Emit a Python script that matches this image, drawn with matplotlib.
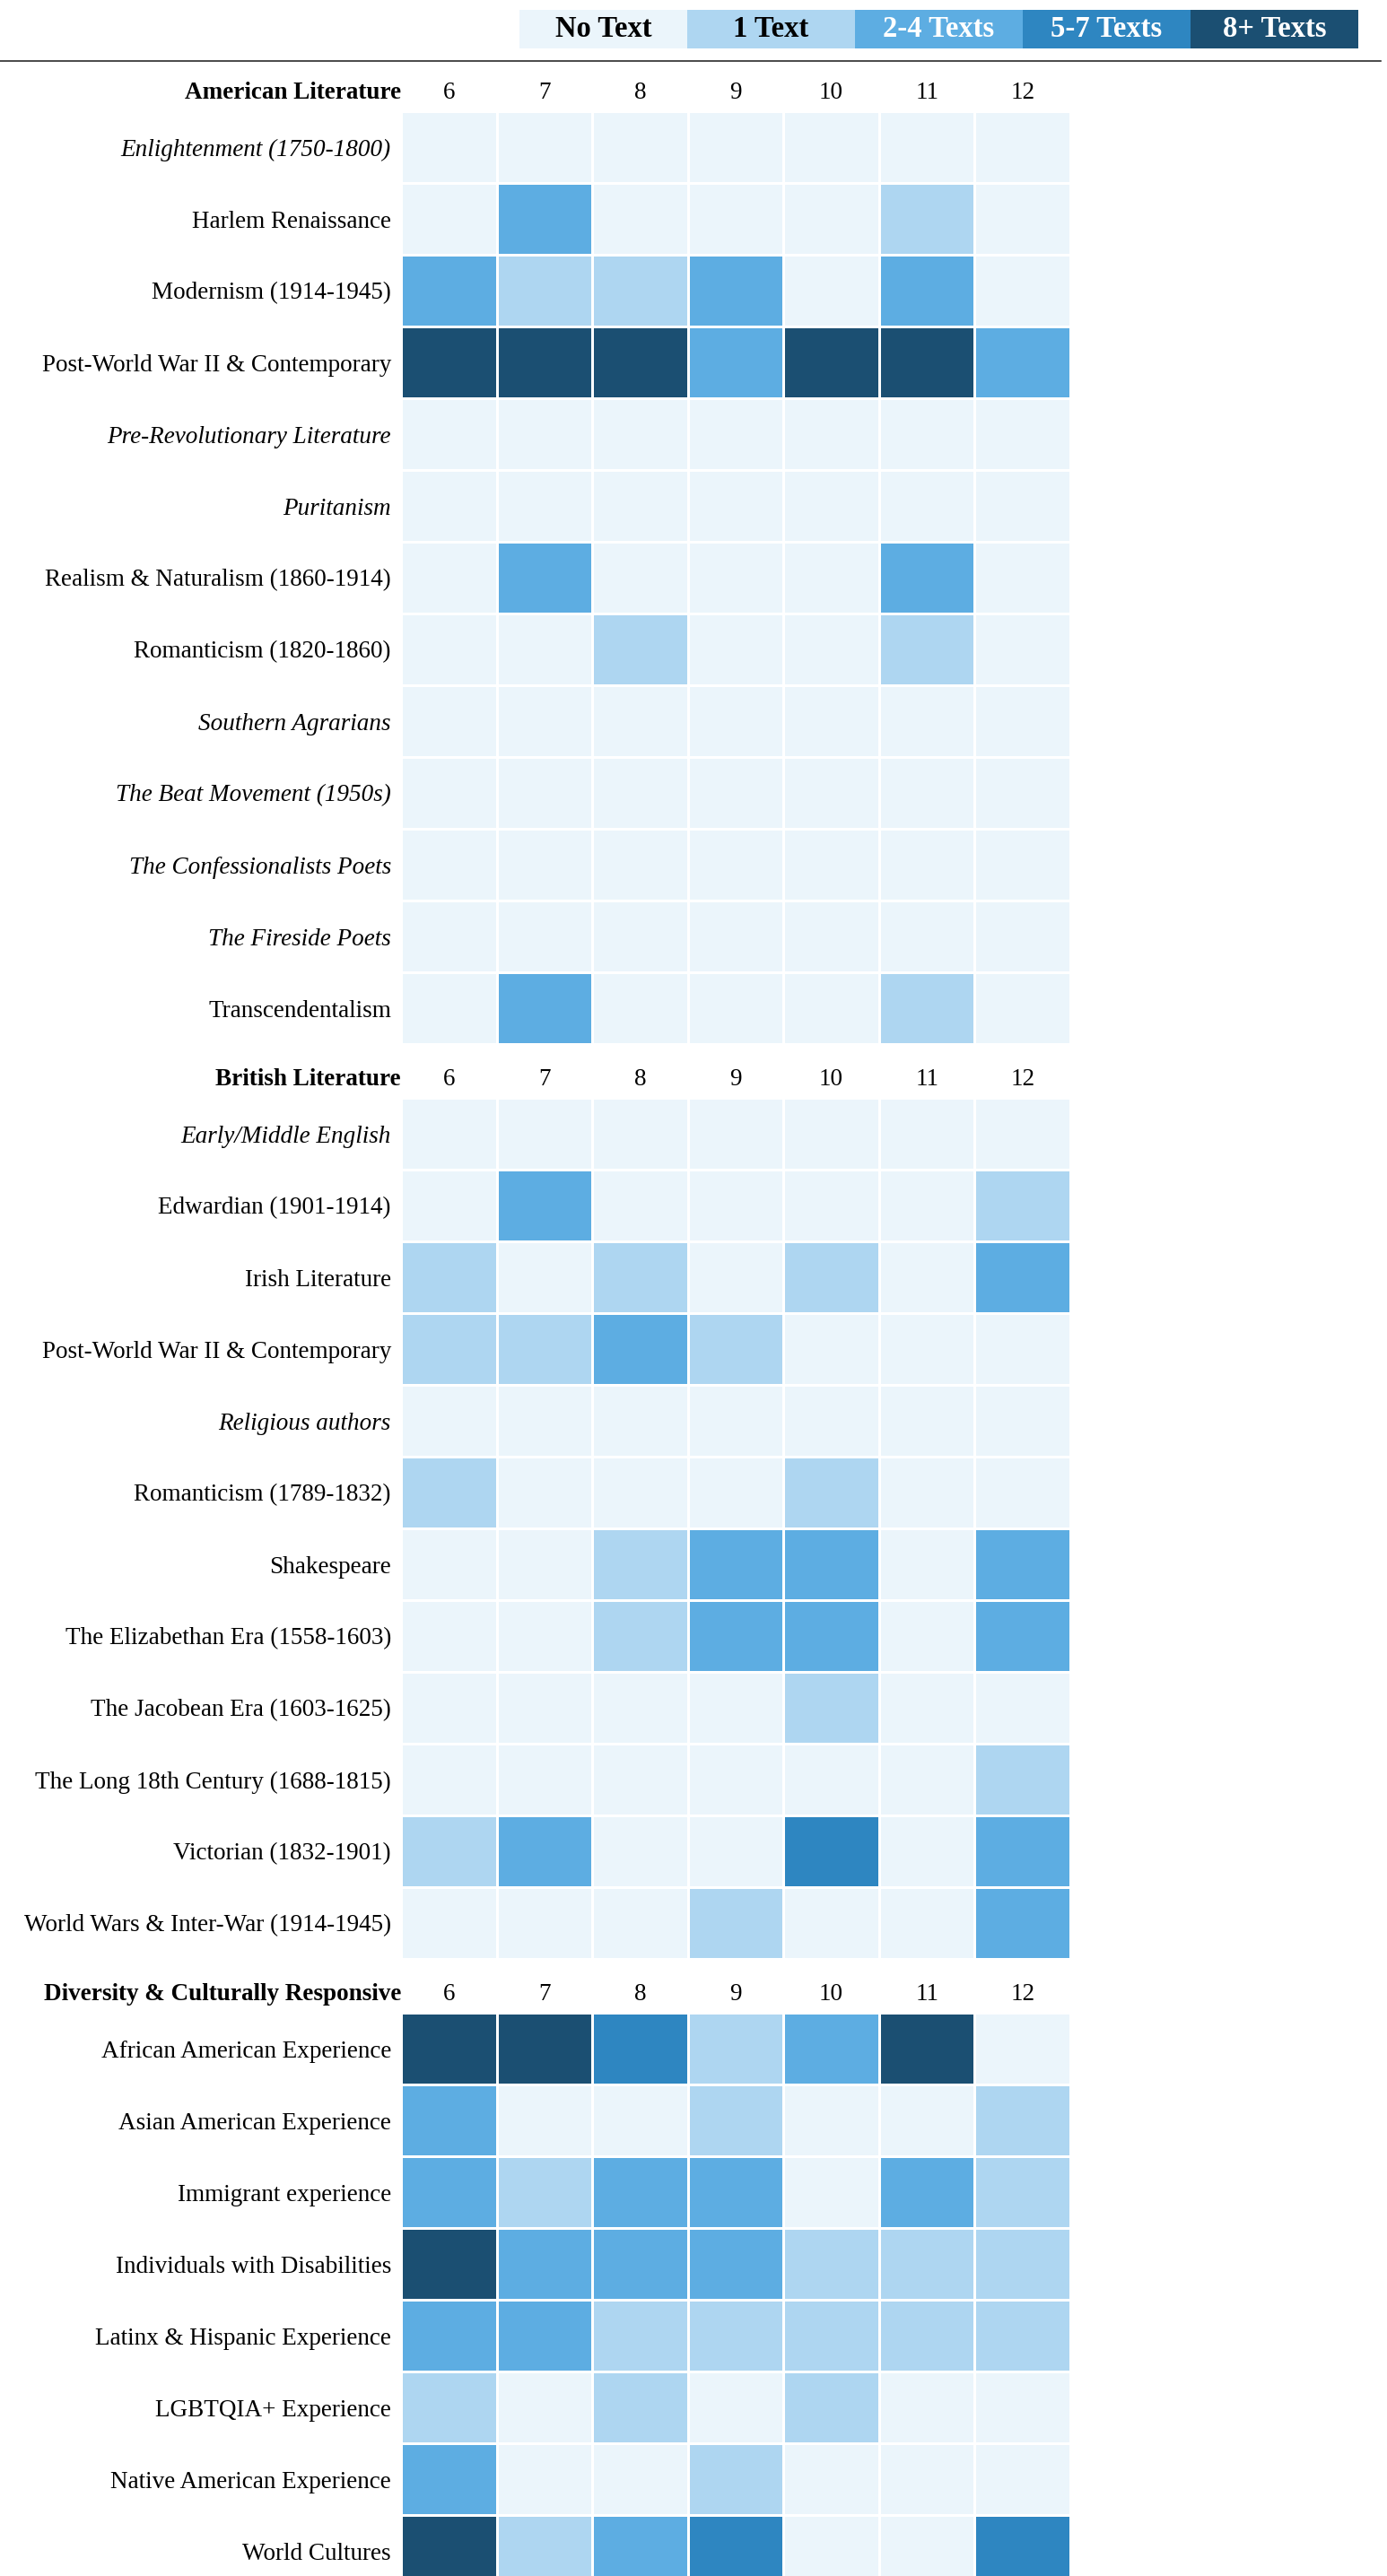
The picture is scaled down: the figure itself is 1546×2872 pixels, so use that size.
import matplotlib.pyplot as plt
import matplotlib.transforms as mtransforms
import numpy as np
from matplotlib.colors import BoundaryNorm, ListedColormap
from matplotlib.lines import Line2D

plt.rcParams["font.family"] = ["Liberation Serif", "DejaVu Serif"]

GRADES = [6, 7, 8, 9, 10, 11, 12]

LEGEND_LABELS = ["No Text", "1 Text", "2-4 Texts", "5-7 Texts", "8+ Texts"]
LEGEND_TEXT_COLORS = ["black", "black", "white", "white", "white"]
LEVEL_COLORS = ["#EBF5FB", "#AED6F1", "#5DADE2", "#2E86C1", "#1B4F72"]

AMERICAN_TITLE = "American Literature"
AMERICAN_ROWS = [
    "Enlightenment (1750-1800)",
    "Harlem Renaissance",
    "Modernism (1914-1945)",
    "Post-World War II & Contemporary",
    "Pre-Revolutionary Literature",
    "Puritanism",
    "Realism & Naturalism (1860-1914)",
    "Romanticism (1820-1860)",
    "Southern Agrarians",
    "The Beat Movement (1950s)",
    "The Confessionalists Poets",
    "The Fireside Poets",
    "Transcendentalism",
]
AMERICAN_LEVELS = [
    [0, 0, 0, 0, 0, 0, 0],
    [0, 2, 0, 0, 0, 1, 0],
    [2, 1, 1, 2, 0, 2, 0],
    [4, 4, 4, 2, 4, 4, 2],
    [0, 0, 0, 0, 0, 0, 0],
    [0, 0, 0, 0, 0, 0, 0],
    [0, 2, 0, 0, 0, 2, 0],
    [0, 0, 1, 0, 0, 1, 0],
    [0, 0, 0, 0, 0, 0, 0],
    [0, 0, 0, 0, 0, 0, 0],
    [0, 0, 0, 0, 0, 0, 0],
    [0, 0, 0, 0, 0, 0, 0],
    [0, 2, 0, 0, 0, 1, 0],
]

BRITISH_TITLE = "British Literature"
BRITISH_ROWS = [
    "Early/Middle English",
    "Edwardian (1901-1914)",
    "Irish Literature",
    "Post-World War II & Contemporary",
    "Religious authors",
    "Romanticism (1789-1832)",
    "Shakespeare",
    "The Elizabethan Era (1558-1603)",
    "The Jacobean Era (1603-1625)",
    "The Long 18th Century (1688-1815)",
    "Victorian (1832-1901)",
    "World Wars & Inter-War (1914-1945)",
]
BRITISH_LEVELS = [
    [0, 0, 0, 0, 0, 0, 0],
    [0, 2, 0, 0, 0, 0, 1],
    [1, 0, 1, 0, 1, 0, 2],
    [1, 1, 2, 1, 0, 0, 0],
    [0, 0, 0, 0, 0, 0, 0],
    [1, 0, 0, 0, 1, 0, 0],
    [0, 0, 1, 2, 2, 0, 2],
    [0, 0, 1, 2, 2, 0, 2],
    [0, 0, 0, 0, 1, 0, 0],
    [0, 0, 0, 0, 0, 0, 1],
    [1, 2, 0, 0, 3, 0, 2],
    [0, 0, 0, 1, 0, 0, 2],
]

DIVERSITY_TITLE = "Diversity & Culturally Responsive"
DIVERSITY_ROWS = [
    "African American Experience",
    "Asian American Experience",
    "Immigrant experience",
    "Individuals with Disabilities",
    "Latinx & Hispanic Experience",
    "LGBTQIA+ Experience",
    "Native American Experience",
    "World Cultures",
]
DIVERSITY_LEVELS = [
    [4, 4, 3, 1, 2, 4, 0],
    [2, 0, 0, 1, 0, 0, 1],
    [2, 1, 2, 2, 0, 2, 1],
    [4, 2, 2, 2, 1, 1, 1],
    [2, 2, 1, 1, 1, 1, 1],
    [1, 0, 1, 0, 1, 0, 0],
    [2, 0, 0, 1, 0, 0, 0],
    [4, 1, 2, 3, 0, 0, 3],
]

W, H = 1546, 2872
ROW_H = 80
GRID_LEFT, GRID_W = 447, 746
FS = 19.5


def main():
    fig = plot()
    fig.savefig("out.png", dpi=100)


def px_axes(fig, left, top, width, height):
    return fig.add_axes([left / W, 1 - (top + height) / H, width / W, height / H])


def plot():
    fig = plt.figure(figsize=(W / 100, H / 100), dpi=100)
    cmap = ListedColormap(LEVEL_COLORS)
    norm = BoundaryNorm(np.arange(-0.5, 5.5, 1), cmap.N)

    draw_legend(fig, cmap, norm)
    fig.add_artist(
        Line2D([0, 1539 / W], [1 - 68 / H] * 2, color="#2b2b2b", lw=1.2)
    )

    sections = [
        (AMERICAN_TITLE, AMERICAN_ROWS, AMERICAN_LEVELS),
        (BRITISH_TITLE, BRITISH_ROWS, BRITISH_LEVELS),
        (DIVERSITY_TITLE, DIVERSITY_ROWS, DIVERSITY_LEVELS),
    ]
    top = 124
    for title, rows, levels in sections:
        draw_section(fig, top, title, rows, levels, cmap, norm)
        top += len(rows) * ROW_H + 60
    return fig


def draw_legend(fig, cmap, norm):
    ax = px_axes(fig, 579, 11, 935, 43)
    ax.pcolormesh([np.arange(len(LEGEND_LABELS))], cmap=cmap, norm=norm)
    for i, (label, color) in enumerate(zip(LEGEND_LABELS, LEGEND_TEXT_COLORS)):
        ax.text(i + 0.5, 0.5, label, ha="center", va="center",
                fontsize=23.5, fontweight="bold", color=color)
    ax.set_xlim(0, len(LEGEND_LABELS))
    ax.set_ylim(0, 1)
    ax.axis("off")


def draw_section(fig, top, title, rows, levels, cmap, norm):
    levels = np.array(levels)
    n = len(rows)
    ax = px_axes(fig, GRID_LEFT, top, GRID_W, n * ROW_H)
    ax.pcolormesh(levels, cmap=cmap, norm=norm, edgecolors="white", linewidth=0.8)
    ax.set_xlim(0, len(GRADES))
    ax.set_ylim(n, 0)

    ax.set_xticks([])
    ax.set_yticks(np.arange(n) + 0.5)
    ax.set_yticklabels(rows)
    ax.tick_params(axis="y", length=0, labelsize=FS, pad=8)
    for lbl, row in zip(ax.get_yticklabels(), levels):
        if row.sum() == 0:
            lbl.set_style("italic")
    for spine in ax.spines.values():
        spine.set_visible(False)

    # grade numbers and section title share one baseline above the grid
    trans = mtransforms.offset_copy(ax.get_xaxis_transform(), fig=fig,
                                    y=14, units="dots")
    for j, grade in enumerate(GRADES):
        ax.text(j + 0.5, 1, str(grade), transform=trans, ha="center",
                va="baseline", fontsize=FS)
    ax.text(0, 1, title, transform=trans, ha="right", va="baseline",
            fontsize=FS, fontweight="bold")


if __name__ == "__main__":
    main()
